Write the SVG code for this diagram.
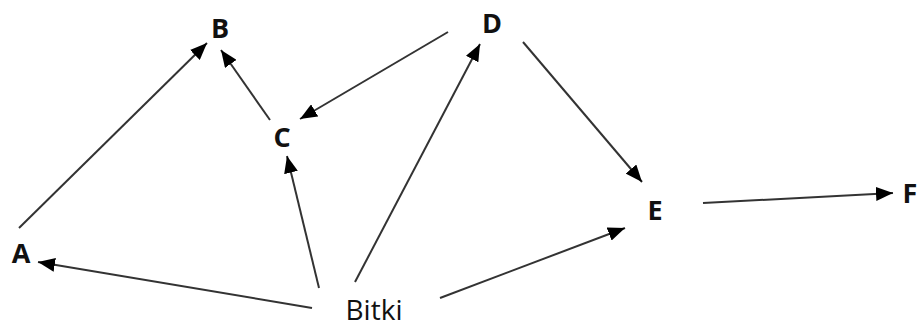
<svg xmlns="http://www.w3.org/2000/svg" width="919" height="329" viewBox="0 0 919 329">
<defs>
<marker id="ah" markerUnits="userSpaceOnUse" markerWidth="18" markerHeight="14" refX="17" refY="7" orient="auto">
<path d="M0,0 L17,7 L0,14 z" fill="#000"/>
</marker>
<style>
.lbl{font-family:"Open Sans","Liberation Sans",sans-serif;font-weight:bold;font-size:27px;fill:#111;text-anchor:middle}
.plain{font-family:"Open Sans","Liberation Sans",sans-serif;font-size:28px;fill:#111;text-anchor:middle}
.edge{stroke:#333;stroke-width:2;fill:none;marker-end:url(#ah)}
</style>
</defs>
<rect width="919" height="329" fill="#fff"/>
<g id="connectors">
<line class="edge" x1="19" y1="228" x2="207" y2="43"/>
<line class="edge" x1="270" y1="120" x2="221" y2="50"/>
<line class="edge" x1="448" y1="32" x2="300" y2="119"/>
<line class="edge" x1="319" y1="288" x2="287" y2="156"/>
<line class="edge" x1="355" y1="282" x2="480" y2="44"/>
<line class="edge" x1="523" y1="42" x2="642" y2="182"/>
<line class="edge" x1="312" y1="308" x2="38" y2="262"/>
<line class="edge" x1="440" y1="298" x2="625" y2="228"/>
<line class="edge" x1="703" y1="203" x2="893" y2="193"/>
</g>
<g id="B"><text class="lbl" x="220" y="38">B</text></g>
<g id="C"><text class="lbl" x="282" y="147">C</text></g>
<g id="D"><text class="lbl" x="492" y="33">D</text></g>
<g id="A"><text class="lbl" x="21" y="263">A</text></g>
<g id="E"><text class="lbl" x="655" y="220">E</text></g>
<g id="F"><text class="lbl" x="910" y="203">F</text></g>
<g id="Bitki"><text class="plain" x="374" y="320">Bitki</text></g>
</svg>
